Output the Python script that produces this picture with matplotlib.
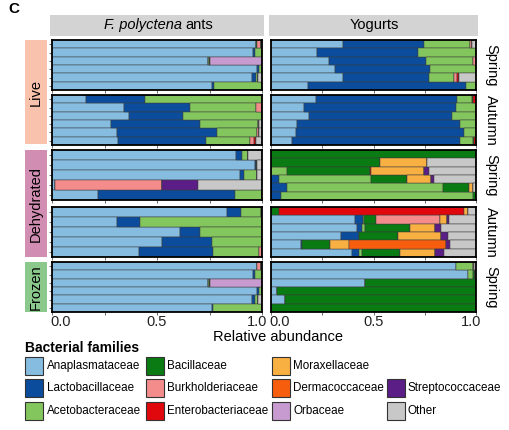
import matplotlib
matplotlib.use("Agg")
import matplotlib.pyplot as plt
from matplotlib.patches import Rectangle
import numpy as np

plt.rcParams['font.family'] = ['Liberation Sans', 'DejaVu Sans']

# figure size in pixels
W = 509
H = 430

# families in stacking / legend order
families = ['Anaplasmataceae', 'Lactobacillaceae', 'Acetobacteraceae', 'Bacillaceae',
            'Burkholderiaceae', 'Enterobacteriaceae', 'Moraxellaceae', 'Dermacoccaceae',
            'Orbaceae', 'Streptococcaceae', 'Other']
familyColors = ['#85BCE0', '#0B4C9C', '#84C65E', '#0A7A12', '#F58C8C', '#E0080C',
                '#F9B043', '#F65E0E', '#C79BD0', '#5B1E86', '#C8C8C8']

# abundances: one list per bar (top to bottom), values in family order
# Ana, Lacto, Aceto, Bacil, Burk, Entero, Morax, Derma, Orb, Strep, Other
antsLiveSpring = [
    [.971, 0, 0, .005, .019, 0, 0, 0, 0, 0, .005],
    [.959, .009, .032, 0, 0, 0, 0, 0, 0, 0, 0],
    [.742, 0, .006, .005, 0, 0, 0, 0, .247, 0, 0],
    [.975, .012, .013, 0, 0, 0, 0, 0, 0, 0, 0],
    [.951, .020, .011, 0, 0, 0, 0, 0, 0, 0, .018],
    [.764, .006, .230, 0, 0, 0, 0, 0, 0, 0, 0]]
antsLiveAutumn = [
    [.163, .282, .555, 0, 0, 0, 0, 0, 0, 0, 0],
    [.345, .310, .316, 0, .029, 0, 0, 0, 0, 0, 0],
    [.369, .257, .374, 0, 0, 0, 0, 0, 0, 0, 0],
    [.280, .425, .274, 0, .008, 0, 0, 0, 0, 0, .013],
    [.309, .477, .190, 0, .008, 0, 0, 0, 0, 0, .016],
    [.314, .420, .209, 0, .019, .009, 0, 0, 0, 0, .029]]
antsDehydSpring = [
    [.877, .028, .027, .003, 0, 0, 0, 0, 0, 0, .065],
    [.965, .008, 0, .004, 0, 0, 0, 0, 0, 0, .023],
    [.893, .019, .063, .003, 0, 0, 0, 0, 0, 0, .022],
    [.013, 0, 0, 0, .511, 0, 0, 0, 0, .171, .305],
    [.218, .652, .130, 0, 0, 0, 0, 0, 0, 0, 0]]
antsDehydAutumn = [
    [.831, .071, .093, 0, .005, 0, 0, 0, 0, 0, 0],
    [.311, .108, .581, 0, 0, 0, 0, 0, 0, 0, 0],
    [.611, .092, .297, 0, 0, 0, 0, 0, 0, 0, 0],
    [.524, .239, .237, 0, 0, 0, 0, 0, 0, 0, 0],
    [.415, .353, .219, 0, .013, 0, 0, 0, 0, 0, 0]]
antsFrozenSpring = [
    [.974, 0, 0, 0, .020, 0, 0, 0, 0, 0, .006],
    [.958, .011, .031, 0, 0, 0, 0, 0, 0, 0, 0],
    [.741, 0, .006, .006, 0, 0, 0, 0, .247, 0, 0],
    [.974, .014, .012, 0, 0, 0, 0, 0, 0, 0, 0],
    [.950, .019, .011, 0, 0, 0, 0, 0, 0, 0, .020],
    [.760, .007, .233, 0, 0, 0, 0, 0, 0, 0, 0]]

yogLiveSpring = [
    [.350, .396, .225, 0, .010, 0, 0, 0, 0, 0, .019],
    [.223, .492, .285, 0, 0, 0, 0, 0, 0, 0, 0],
    [.283, .471, .230, 0, .016, 0, 0, 0, 0, 0, 0],
    [.310, .466, .224, 0, 0, 0, 0, 0, 0, 0, 0],
    [.350, .421, .122, 0, .016, .008, 0, 0, 0, 0, .083],
    [.182, .769, .049, 0, 0, 0, 0, 0, 0, 0, 0]]
yogLiveAutumn = [
    [.220, .686, .073, .008, 0, .013, 0, 0, 0, 0, 0],
    [.163, .739, .098, 0, 0, 0, 0, 0, 0, 0, 0],
    [.185, .700, .115, 0, 0, 0, 0, 0, 0, 0, 0],
    [.128, .794, .078, 0, 0, 0, 0, 0, 0, 0, 0],
    [.122, .819, .059, 0, 0, 0, 0, 0, 0, 0, 0],
    [.102, .820, .065, .005, 0, .008, 0, 0, 0, 0, 0]]
yogDehydSpring = [
    [0, 0, 0, 1.0, 0, 0, 0, 0, 0, 0, 0],
    [0, 0, 0, .530, 0, 0, .230, 0, 0, 0, .240],
    [0, 0, .076, .405, 0, .008, .257, 0, 0, .027, .227],
    [0, .039, .447, .177, 0, 0, .118, 0, 0, .012, .207],
    [0, .079, .761, .128, 0, 0, .019, 0, 0, 0, .013],
    [0, .049, .935, .016, 0, 0, 0, 0, 0, 0, 0]]
yogDehydAutumn = [
    [0, 0, 0, .040, 0, .900, .020, 0, 0, 0, .040],
    [.410, .040, .005, .055, .315, 0, .035, 0, 0, .010, .130],
    [.420, .025, .015, .220, 0, 0, .120, 0, 0, .030, .170],
    [.340, .090, 0, .190, 0, 0, .210, 0, 0, .035, .135],
    [.145, .005, 0, .140, 0, 0, .090, .475, 0, .020, .125],
    [.395, .035, .015, .185, 0, 0, .170, 0, 0, .045, .155]]
yogFrozenSpring = [
    [.903, 0, .081, 0, .008, 0, 0, 0, 0, 0, .008],
    [.960, 0, .025, .008, 0, 0, 0, 0, 0, 0, .007],
    [.457, 0, 0, .543, 0, 0, 0, 0, 0, 0, 0],
    [.031, 0, 0, .969, 0, 0, 0, 0, 0, 0, 0],
    [.068, 0, 0, .932, 0, 0, 0, 0, 0, 0, 0],
    [0, 0, 0, 1.0, 0, 0, 0, 0, 0, 0, 0]]

panelData = [[antsLiveSpring, yogLiveSpring],
             [antsLiveAutumn, yogLiveAutumn],
             [antsDehydSpring, yogDehydSpring],
             [antsDehydAutumn, yogDehydAutumn],
             [antsFrozenSpring, yogFrozenSpring]]
seasons = ['Spring', 'Autumn', 'Spring', 'Autumn', 'Spring']
xTicks = [0, 0.25, 0.5, 0.75, 1.0]
xLabels = ['0.0', '', '0.5', '', '1.0']

# layout in pixels
colX = [(52, 262), (271, 476)]
rowTop = [40, 95, 150, 207, 262]
rowH = 50


# convert pixel box (from top-left) into figure fraction
def box(x0, y0, x1, y1):
    return [x0 / W, 1 - y1 / H, (x1 - x0) / W, (y1 - y0) / H]


def fx(x):
    return x / W


def fy(y):
    return 1 - y / H


# draw one stacked bar panel
def drawPanel(ax, bars, showY):
    arr = np.array(bars)
    n = arr.shape[0]
    ypos = np.arange(n)
    left = np.zeros(n)
    for k in range(len(families)):
        vals = arr[:, k]
        ax.barh(ypos, vals, left=left, height=1.0, color=familyColors[k],
                edgecolor='#3c3c3c', linewidth=0.35)
        left = left + vals
    ax.set_xlim(0, 1)
    ax.set_ylim(n - 0.5, -0.5)
    ax.set_xticks(xTicks)
    ax.set_xticklabels([])
    if showY:
        ax.set_yticks(ypos)
    else:
        ax.set_yticks([])
    ax.set_yticklabels([])
    ax.tick_params(length=2.5, width=0.6, color='#555555')
    for s in ax.spines.values():
        s.set_linewidth(1.3)
        s.set_color('black')


fig = plt.figure(figsize=(W / 100, H / 100), dpi=100)

for r in range(5):
    for c in range(2):
        x0, x1 = colX[c]
        ax = fig.add_axes(box(x0, rowTop[r], x1, rowTop[r] + rowH))
        drawPanel(ax, panelData[r][c], c == 0)
        # tick labels only under the last row
        if r == 4:
            for t, lab in zip(xTicks, xLabels):
                if lab == '':
                    continue
                ha = 'center'
                dx = 0
                if t == 0:
                    ha = 'left'
                    dx = -2
                if t == 1:
                    dx = -5
                px = x0 + t * (x1 - x0) + dx
                fig.text(fx(px), fy(322), lab, ha=ha, va='center', fontsize=10.5,
                         color='#222222')
    # season label on the right
    fig.text(fx(491), fy(rowTop[r] + rowH / 2), seasons[r], rotation=270,
             ha='center', va='center', fontsize=10.5)

# column strips
for c in range(2):
    x0, x1 = colX[c]
    fig.patches.append(Rectangle((fx(x0 - 2), fy(36)), (x1 - x0 + 4) / W, 21 / H,
                                 transform=fig.transFigure, facecolor='#D3D3D3',
                                 edgecolor='none'))
fig.text(fx(182), fy(25), 'F. polyctena', style='italic', ha='right', va='center', fontsize=10.5)
fig.text(fx(185), fy(25), 'ants', ha='left', va='center', fontsize=10.5)
fig.text(fx(374), fy(25), 'Yogurts', ha='center', va='center', fontsize=10.5)

# treatment strips on the left
treatments = [('Live', 40, 144, '#F9C2AD'), ('Dehydrated', 150, 257, '#D18EB2'),
              ('Frozen', 262, 312, '#8AC98B')]
for name, y0, y1, col in treatments:
    fig.patches.append(Rectangle((fx(25), fy(y1)), 22 / W, (y1 - y0) / H,
                                 transform=fig.transFigure, facecolor=col, edgecolor='none'))
    fig.text(fx(36), fy((y0 + y1) / 2), name, rotation=90, ha='center', va='center',
             fontsize=10.5)

fig.text(fx(8), fy(9), 'C', fontweight='bold', ha='left', va='center', fontsize=11)
fig.text(fx(278), fy(337), 'Relative abundance', ha='center', va='center', fontsize=10.5)

# legend drawn by hand to keep the original arrangement
fig.text(fx(25), fy(348), 'Bacterial families', fontweight='bold', ha='left', va='center',
         fontsize=10)
legendCols = [(25, 47), (146, 167), (272, 293), (387, 408)]
legendRows = [366, 388, 411]
legendSlots = [(0, 0), (0, 1), (0, 2), (1, 0), (1, 1), (1, 2), (2, 0), (2, 1), (2, 2),
               (3, 1), (3, 2)]
for k, (ci, ri) in enumerate(legendSlots):
    bx, tx = legendCols[ci]
    cy = legendRows[ri]
    fig.patches.append(Rectangle((fx(bx), fy(cy + 9)), 18 / W, 18 / H,
                                 transform=fig.transFigure, facecolor=familyColors[k],
                                 edgecolor='#333333', linewidth=0.8))
    fig.text(fx(tx), fy(cy), families[k], ha='left', va='center', fontsize=8.4)

fig.savefig('out.png', dpi=100)
